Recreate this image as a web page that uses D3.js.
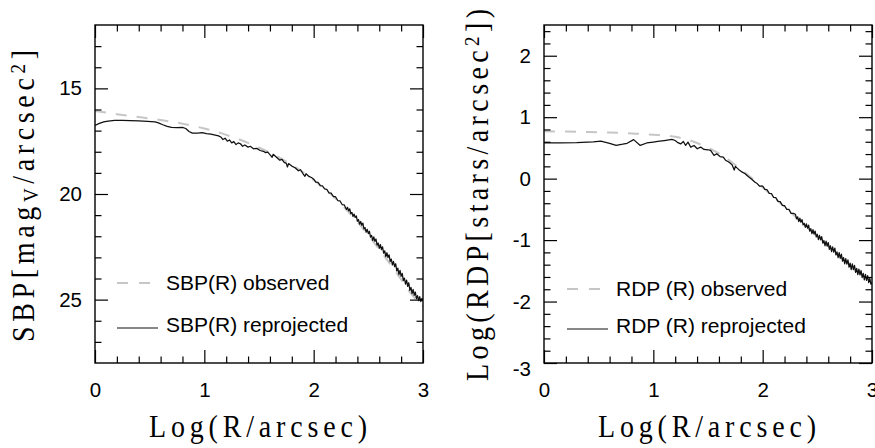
<!DOCTYPE html>
<html>
<head>
<meta charset="utf-8">
<script src="https://cdn.jsdelivr.net/npm/d3@7"></script>
<style>
  body { margin: 0; background: #fff; }
  svg { display: block; }
</style>
</head>
<body>
<svg id="chart" width="875" height="448"></svg>
<script>
// ---- Surface brightness profile (left panel): log R [arcsec] vs mag_V/arcsec^2
const sbpObsLogR = [0.0, 0.2, 0.4, 0.6, 0.8, 1.0, 1.2, 1.4, 1.6, 1.8, 2.0, 2.2, 2.4, 2.6, 2.8, 2.9, 3.0];
const sbpObsMag  = [16.07, 16.22, 16.36, 16.50, 16.67, 16.90, 17.20, 17.58, 18.05, 18.62, 19.34, 20.22, 21.32, 22.62, 24.04, 24.78, 25.32];

const sbpRepLogR = [0.00, 0.04, 0.08, 0.12, 0.18, 0.25, 0.32, 0.40, 0.48, 0.55, 0.58, 0.62, 0.66, 0.70, 0.75, 0.80, 0.83, 0.86, 0.89, 0.94,
  0.98, 1.02, 1.06, 1.10, 1.13, 1.15, 1.17, 1.19, 1.21, 1.23, 1.25, 1.27, 1.29, 1.31, 1.33, 1.35, 1.37, 1.40, 1.42, 1.45,
  1.48, 1.51, 1.54, 1.56, 1.58, 1.60, 1.62, 1.63, 1.66, 1.69, 1.71, 1.73, 1.75, 1.76, 1.77, 1.80, 1.83, 1.86, 1.88, 1.90,
  1.92, 1.93, 1.96, 1.98,
  2.00, 2.02, 2.04, 2.06, 2.08, 2.10, 2.12, 2.14, 2.16, 2.18, 2.20, 2.22, 2.24, 2.26, 2.28,
  2.30, 2.31, 2.32, 2.33, 2.34, 2.35, 2.36, 2.37, 2.38, 2.39, 2.40, 2.41, 2.42, 2.43, 2.44, 2.45, 2.46, 2.47, 2.48, 2.49,
  2.50, 2.51, 2.52, 2.53, 2.54, 2.55, 2.56, 2.57, 2.58, 2.59, 2.60, 2.61, 2.62, 2.63, 2.64, 2.65, 2.66, 2.67, 2.68, 2.69,
  2.70, 2.71, 2.72, 2.73, 2.74, 2.75, 2.76, 2.77, 2.78, 2.79, 2.80, 2.81, 2.82, 2.83, 2.84, 2.85, 2.86, 2.87, 2.88, 2.89,
  2.90, 2.91, 2.92, 2.93, 2.94, 2.95, 2.96, 2.97, 2.98, 2.99, 3.00];
const sbpRepMag  = [16.75, 16.66, 16.59, 16.55, 16.52, 16.52, 16.53, 16.54, 16.56, 16.59, 16.63, 16.72, 16.80, 16.85, 16.86, 16.85, 16.90, 17.04, 17.12, 17.12,
  17.10, 17.14, 17.17, 17.21, 17.25, 17.30, 17.42, 17.36, 17.50, 17.44, 17.58, 17.52, 17.66, 17.58, 17.62, 17.74, 17.68, 17.78, 17.74, 17.86,
  17.84, 17.94, 17.98, 18.04, 18.02, 18.14, 18.26, 18.12, 18.26, 18.40, 18.36, 18.50, 18.55, 18.72, 18.56, 18.68, 18.76, 18.90, 18.85, 19.02,
  19.16, 19.04, 19.18, 19.22,
  19.30, 19.44, 19.45, 19.60, 19.62, 19.76, 19.78, 19.95, 19.96, 20.12, 20.13, 20.31, 20.32, 20.50, 20.52,
  20.73, 20.63, 20.80, 20.70, 20.93, 20.87, 21.07, 20.95, 21.11, 21.04, 21.29, 21.21, 21.43, 21.30, 21.48, 21.38, 21.65, 21.59, 21.81, 21.67,
  21.88, 21.77, 22.04, 21.96, 22.20, 22.03, 22.24, 22.13, 22.42, 22.32, 22.57, 22.39, 22.63, 22.50, 22.80, 22.69, 22.96, 22.78, 23.01, 22.88,
  23.20, 23.08, 23.36, 23.19, 23.44, 23.30, 23.64, 23.51, 23.82, 23.62, 23.90, 23.76, 24.10, 23.98, 24.27, 24.08, 24.37, 24.20, 24.56, 24.42,
  24.72, 24.52, 24.80, 24.64, 24.96, 24.81, 25.05, 24.86, 25.09, 24.94, 25.05];

// ---- Radial density profile (right panel): log R [arcsec] vs log(stars/arcsec^2)
const rdpObsLogR = [0.0, 0.2, 0.4, 0.6, 0.8, 1.0, 1.2, 1.3, 1.4, 1.5, 1.6, 1.7, 1.8, 1.9, 2.0, 2.2, 2.4, 2.6, 2.8, 3.0];
const rdpObsDens = [0.77, 0.765, 0.76, 0.75, 0.735, 0.715, 0.68, 0.64, 0.58, 0.50, 0.41, 0.29, 0.15, 0.01, -0.14, -0.46, -0.78, -1.10, -1.41, -1.71];

const rdpRepLogR = [0.00, 0.15, 0.30, 0.45, 0.52, 0.60, 0.66, 0.72, 0.76, 0.82, 0.88, 0.94, 1.00, 1.04, 1.10, 1.17, 1.20, 1.22, 1.25, 1.275,
  1.295, 1.317, 1.342, 1.372, 1.402, 1.433, 1.463, 1.50, 1.524, 1.555, 1.58, 1.61, 1.64, 1.66, 1.69, 1.72, 1.74, 1.75, 1.78, 1.81,
  1.84, 1.87, 1.90, 1.93, 1.95, 1.97,
  2.00, 2.02, 2.04, 2.06, 2.08, 2.10, 2.12, 2.14, 2.16, 2.18, 2.20, 2.22, 2.24, 2.26, 2.28,
  2.30, 2.31, 2.32, 2.33, 2.34, 2.35, 2.36, 2.37, 2.38, 2.39, 2.40, 2.41, 2.42, 2.43, 2.44, 2.45, 2.46, 2.47, 2.48, 2.49,
  2.50, 2.51, 2.52, 2.53, 2.54, 2.55, 2.56, 2.57, 2.58, 2.59, 2.60, 2.61, 2.62, 2.63, 2.64, 2.65, 2.66, 2.67, 2.68, 2.69,
  2.70, 2.71, 2.72, 2.73, 2.74, 2.75, 2.76, 2.77, 2.78, 2.79, 2.80, 2.81, 2.82, 2.83, 2.84, 2.85, 2.86, 2.87, 2.88, 2.89,
  2.90, 2.91, 2.92, 2.93, 2.94, 2.95, 2.96, 2.97, 2.98, 2.99, 3.00];
const rdpRepDens = [0.58, 0.58, 0.585, 0.60, 0.61, 0.575, 0.54, 0.56, 0.575, 0.635, 0.54, 0.58, 0.595, 0.605, 0.62, 0.64, 0.62, 0.59, 0.565, 0.605,
  0.54, 0.594, 0.513, 0.54, 0.486, 0.513, 0.475, 0.47, 0.459, 0.378, 0.405, 0.36, 0.35, 0.30, 0.27, 0.225, 0.14, 0.20, 0.15, 0.11,
  0.08, 0.03, -0.01, -0.06, -0.08, -0.12,
  -0.12, -0.175, -0.18, -0.24, -0.245, -0.305, -0.31, -0.37, -0.375, -0.435, -0.44, -0.50, -0.50, -0.565, -0.565,
  -0.580, -0.656, -0.622, -0.698, -0.644, -0.710, -0.666, -0.752, -0.728, -0.794, -0.735, -0.806, -0.757, -0.853, -0.814, -0.895, -0.831, -0.902, -0.853, -0.949,
  -0.905, -0.991, -0.922, -0.998, -0.944, -1.050, -1.006, -1.092, -1.018, -1.099, -1.040, -1.151, -1.092, -1.188, -1.109, -1.195, -1.131, -1.242, -1.193, -1.284,
  -1.205, -1.296, -1.227, -1.343, -1.284, -1.385, -1.301, -1.392, -1.323, -1.439, -1.375, -1.479, -1.388, -1.482, -1.411, -1.525, -1.459, -1.563, -1.472, -1.566,
  -1.495, -1.609, -1.543, -1.647, -1.556, -1.655, -1.579, -1.693, -1.622, -1.716, -1.690];

// ---- Axis ticks and labels
const xMajorTicks = [0, 1, 2, 3];
const sbpMajorTicks = [15, 20, 25];
const rdpMajorTicks = [-3, -2, -1, 0, 1, 2];

const sbpLegend = ["SBP(R) observed", "SBP(R) reprojected"];
const rdpLegend = ["RDP (R) observed", "RDP (R) reprojected"];

const svg = d3.select("#chart");
const SANS = "'Liberation Sans', Arial, Helvetica, sans-serif";
const SERIF = "'Liberation Serif', 'Times New Roman', serif";
const OBS_COLOR = "#c6c6c6";
const REP_COLOR = "#111";

function toPoints(xs, ys) { return xs.map((x, i) => [x, ys[i]]); }

function drawPanel(cfg) {
  const x = d3.scaleLinear().domain([0, 3]).range([cfg.left, cfg.right]);
  const y = d3.scaleLinear().domain(cfg.yDomain).range([cfg.bottom, cfg.top]);
  const g = svg.append("g");
  const MAJ = 13, MIN = 6.5;

  const clipId = cfg.id + "-clip";
  svg.append("clipPath").attr("id", clipId).append("rect")
    .attr("x", cfg.left).attr("y", cfg.top)
    .attr("width", cfg.right - cfg.left).attr("height", cfg.bottom - cfg.top);

  // profile curves
  const plot = g.append("g").attr("clip-path", `url(#${clipId})`);
  const smooth = d3.line().x(d => x(d[0])).y(d => y(d[1])).curve(d3.curveMonotoneX);
  const raw = d3.line().x(d => x(d[0])).y(d => y(d[1]));
  plot.append("path")
    .attr("d", smooth(toPoints(cfg.obsX, cfg.obsY)))
    .attr("fill", "none").attr("stroke", OBS_COLOR)
    .attr("stroke-width", 2).attr("stroke-dasharray", "11,10");
  plot.append("path")
    .attr("d", raw(toPoints(cfg.repX, cfg.repY)))
    .attr("fill", "none").attr("stroke", REP_COLOR)
    .attr("stroke-width", 1.25).attr("stroke-linejoin", "round");

  // ticks on all four sides, pointing inward
  const xMinor = d3.range(0, 16).map(i => i * 0.2).filter(v => !xMajorTicks.some(t => Math.abs(t - v) < 1e-6));
  const yMinor = cfg.yMinor.filter(v => !cfg.yMajor.some(t => Math.abs(t - v) < 1e-6));

  function styleAxis(sel) {
    sel.select(".domain").remove();
    sel.selectAll(".tick line").attr("stroke", "#000").attr("stroke-width", 1.2);
    sel.selectAll("text").attr("font-family", SANS).attr("font-size", 20.5).attr("fill", "#000");
  }
  function addAxis(axis, tx, ty) {
    const a = g.append("g").attr("transform", `translate(${tx},${ty})`).call(axis);
    styleAxis(a);
    return a;
  }

  addAxis(d3.axisBottom(x).tickValues(xMajorTicks).tickSizeInner(-MAJ).tickSizeOuter(0)
    .tickPadding(19).tickFormat(d => String(d)), 0, cfg.bottom);
  addAxis(d3.axisBottom(x).tickValues(xMinor).tickSizeInner(-MIN).tickSizeOuter(0).tickFormat(""), 0, cfg.bottom);
  addAxis(d3.axisTop(x).tickValues(xMajorTicks).tickSizeInner(-MAJ).tickSizeOuter(0).tickFormat(""), 0, cfg.top);
  addAxis(d3.axisTop(x).tickValues(xMinor).tickSizeInner(-MIN).tickSizeOuter(0).tickFormat(""), 0, cfg.top);

  const leftMaj = addAxis(d3.axisLeft(y).tickValues(cfg.yMajor).tickSizeInner(-MAJ).tickSizeOuter(0)
    .tickPadding(13).tickFormat(d => String(d)), cfg.left, 0);
  if (cfg.shiftLowest) {
    leftMaj.selectAll(".tick").filter(d => d === cfg.yDomain[0]).select("text").attr("dy", "0.62em");
  }
  addAxis(d3.axisLeft(y).tickValues(yMinor).tickSizeInner(-MIN).tickSizeOuter(0).tickFormat(""), cfg.left, 0);
  addAxis(d3.axisRight(y).tickValues(cfg.yMajor).tickSizeInner(-MAJ).tickSizeOuter(0).tickFormat(""), cfg.right, 0);
  addAxis(d3.axisRight(y).tickValues(yMinor).tickSizeInner(-MIN).tickSizeOuter(0).tickFormat(""), cfg.right, 0);

  // frame
  g.append("rect")
    .attr("x", cfg.left).attr("y", cfg.top)
    .attr("width", cfg.right - cfg.left).attr("height", cfg.bottom - cfg.top)
    .attr("fill", "none").attr("stroke", "#000").attr("stroke-width", 1.4);

  // legend
  const lg = g.append("g");
  lg.append("line")
    .attr("x1", cfg.legX).attr("x2", cfg.legX + 33)
    .attr("y1", cfg.legY[0] - 7).attr("y2", cfg.legY[0] - 7)
    .attr("stroke", OBS_COLOR).attr("stroke-width", 2).attr("stroke-dasharray", "11,11");
  lg.append("line")
    .attr("x1", cfg.legX).attr("x2", cfg.legX + 41)
    .attr("y1", cfg.legY[1] - 4).attr("y2", cfg.legY[1] - 4)
    .attr("stroke", REP_COLOR).attr("stroke-width", 1.2);
  cfg.legend.forEach((t, i) => {
    lg.append("text")
      .attr("x", cfg.legX + 49).attr("y", cfg.legY[i])
      .attr("font-family", SANS).attr("font-size", 21).attr("fill", "#000")
      .text(t);
  });

  // axis titles: evenly spaced serif letters
  g.append("text")
    .attr("transform", `translate(${cfg.xTitleX},437) scale(1,1.1)`)
    .attr("text-anchor", "middle")
    .attr("font-family", SERIF).attr("font-size", 28).attr("fill", "#000")
    .attr("textLength", 218).attr("lengthAdjust", "spacing")
    .text("Log(R/arcsec)");

  const yt = g.append("text")
    .attr("transform", `translate(${cfg.yTitleX},${cfg.yTitleY}) rotate(-90) scale(1,1.1)`)
    .attr("text-anchor", "middle")
    .attr("font-family", SERIF).attr("font-size", 28).attr("fill", "#000")
    .attr("textLength", cfg.yTitleLen).attr("lengthAdjust", "spacing");
  cfg.yTitle.forEach(part => {
    const ts = yt.append("tspan").text(part.t);
    if (part.sub) ts.attr("font-size", 19).attr("baseline-shift", "-4");
    if (part.sup) ts.attr("font-size", 19).attr("baseline-shift", "9");
  });
}

drawPanel({
  id: "sbp", left: 95, right: 423, top: 25, bottom: 363,
  yDomain: [28, 12],
  yMajor: sbpMajorTicks, yMinor: d3.range(13, 28),
  obsX: sbpObsLogR, obsY: sbpObsMag, repX: sbpRepLogR, repY: sbpRepMag,
  legend: sbpLegend, legX: 117, legY: [290, 332],
  xTitleX: 258,
  yTitleX: 34, yTitleY: 196, yTitleLen: 292,
  yTitle: [{ t: "SBP[mag" }, { t: "V", sub: true }, { t: "/arcsec" }, { t: "2", sup: true }, { t: "]" }]
});

drawPanel({
  id: "rdp", left: 544, right: 872, top: 25, bottom: 363,
  yDomain: [-3, 2.5], shiftLowest: true,
  yMajor: rdpMajorTicks, yMinor: d3.range(1, 28).map(i => Math.round((-3 + i * 0.2) * 10) / 10),
  obsX: rdpObsLogR, obsY: rdpObsDens, repX: rdpRepLogR, repY: rdpRepDens,
  legend: rdpLegend, legX: 567, legY: [296, 333],
  xTitleX: 707,
  yTitleX: 488, yTitleY: 195, yTitleLen: 372,
  yTitle: [{ t: "Log(RDP[stars/arcsec" }, { t: "2", sup: true }, { t: "])" }]
});
</script>
</body>
</html>
